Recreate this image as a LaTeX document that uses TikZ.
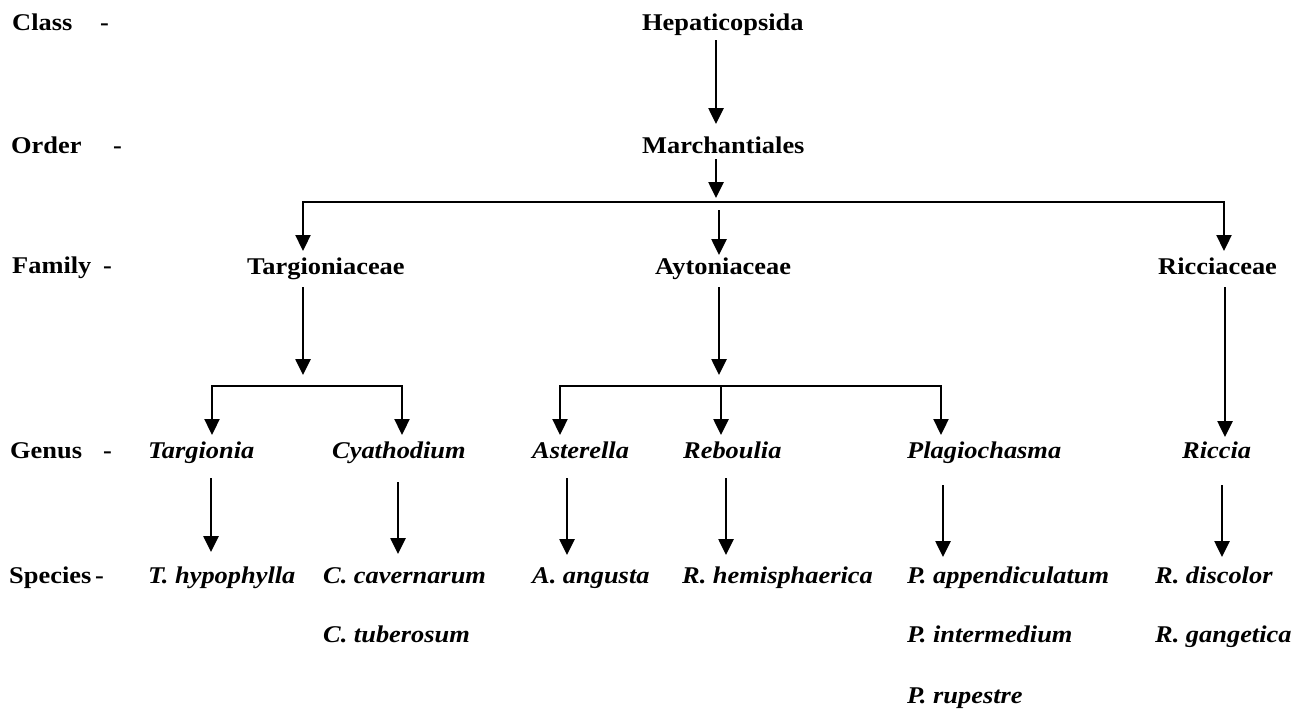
\documentclass[tikz,border=0pt]{standalone}
\usepackage{fontspec}
\setmainfont{Liberation Serif}[FakeStretch=1.1]
\usetikzlibrary{arrows.meta}
\begin{document}
\begin{tikzpicture}[x=1pt,y=-1pt,
  lbl/.style={inner sep=0pt, anchor=base west, font=\fontsize{24}{28}\selectfont\bfseries},
  sp/.style={inner sep=0pt, anchor=base west, font=\fontsize{24}{28}\selectfont\bfseries\itshape},
  arr/.style={line width=2.6pt, -{Triangle[width=15pt,length=16pt]}},
  busarr/.style={line width=2.3pt, {Triangle[width=15pt,length=16pt]}-{Triangle[width=15pt,length=16pt]}}]
\useasboundingbox[fill=white] (0,0) rectangle (1307,710);

% rank labels
\node[lbl] (lclass) at (12,30) {\makebox[88pt][l]{Class}-};
\node[lbl] (lorder) at (11,153) {\makebox[102pt][l]{Order}-};
\node[lbl] (lfam) at (12,273) {\makebox[91pt][l]{Family}-};
\node[lbl] (lgen) at (10,458) {\makebox[93pt][l]{Genus}-};
\node[lbl] (lspe) at (9,583) {\makebox[86pt][l]{Species}-};

% taxa
\node[lbl] (hep) at (642,30) {Hepaticopsida};
\node[lbl] (mar) at (642,153) {Marchantiales};
\node[lbl] (targ) at (247,274) {Targioniaceae};
\node[lbl] (ayt) at (655,274) {Aytoniaceae};
\node[lbl] (ric) at (1158,274) {Ricciaceae};

\node[sp] (gtarg) at (148,458) {Targionia};
\node[sp] (gcya) at (332,458) {Cyathodium};
\node[sp] (gast) at (532,458) {Asterella};
\node[sp] (greb) at (683,458) {Reboulia};
\node[sp] (gpla) at (907,458) {Plagiochasma};
\node[sp] (gric) at (1182,458) {Riccia};

\node[sp] (s1) at (148,583) {T. hypophylla};
\node[sp] (s2) at (323,583) {C. cavernarum};
\node[sp] (s3) at (323,642) {C. tuberosum};
\node[sp] (s4) at (532,583) {A. angusta};
\node[sp] (s5) at (682,583) {R. hemisphaerica};
\node[sp] (s6) at (907,583) {P. appendiculatum};
\node[sp] (s7) at (907,642) {P. intermedium};
\node[sp] (s8) at (907,703) {P. rupestre};
\node[sp] (s9) at (1155,583) {R. discolor};
\node[sp] (s10) at (1155,642) {R. gangetica};

% connector points
\coordinate (hepA) at (716,40);   \coordinate (marT) at (716,124);
\coordinate (marA) at (716,159);  \coordinate (busT) at (716,198);
\coordinate (busL) at (303,202);  \coordinate (busR) at (1224,202);
\coordinate (targT) at (303,251); \coordinate (ricT) at (1224,251);
\coordinate (aytA) at (719,210);  \coordinate (aytT) at (719,255);

\coordinate (targB) at (303,287); \coordinate (tsubT) at (303,375);
\coordinate (tbL) at (212,386);   \coordinate (tbR) at (402,386);
\coordinate (gtargT) at (212,435); \coordinate (gcyaT) at (402,435);

\coordinate (aytB) at (719,287);  \coordinate (asubT) at (719,375);
\coordinate (abL) at (560,386);   \coordinate (abM) at (721,386); \coordinate (abR) at (941,386);
\coordinate (gastT) at (560,435); \coordinate (grebT) at (721,435); \coordinate (gplaT) at (941,435);

\coordinate (ricB) at (1225,287); \coordinate (gricT) at (1225,437);

% connectors
\draw[arr] (hepA) -- (marT);
\draw[arr] (marA) -- (busT);
\draw[busarr] (targT) -- (busL) -- (busR) -- (ricT);
\draw[arr] (aytA) -- (aytT);

\draw[arr] (targB) -- (tsubT);
\draw[busarr] (gtargT) -- (tbL) -- (tbR) -- (gcyaT);
\draw[arr] (aytB) -- (asubT);
\draw[busarr] (gastT) -- (abL) -- (abR) -- (gplaT);
\draw[arr] (abM) -- (grebT);
\draw[arr] (ricB) -- (gricT);

% genus to species
\coordinate (g1a) at (211,478); \coordinate (g1b) at (211,552);
\coordinate (g2a) at (398,482); \coordinate (g2b) at (398,554);
\coordinate (g3a) at (567,478); \coordinate (g3b) at (567,555);
\coordinate (g4a) at (726,478); \coordinate (g4b) at (726,555);
\coordinate (g5a) at (943,485); \coordinate (g5b) at (943,557);
\coordinate (g6a) at (1222,485); \coordinate (g6b) at (1222,557);
\draw[arr] (g1a) -- (g1b);
\draw[arr] (g2a) -- (g2b);
\draw[arr] (g3a) -- (g3b);
\draw[arr] (g4a) -- (g4b);
\draw[arr] (g5a) -- (g5b);
\draw[arr] (g6a) -- (g6b);
\end{tikzpicture}
\end{document}
